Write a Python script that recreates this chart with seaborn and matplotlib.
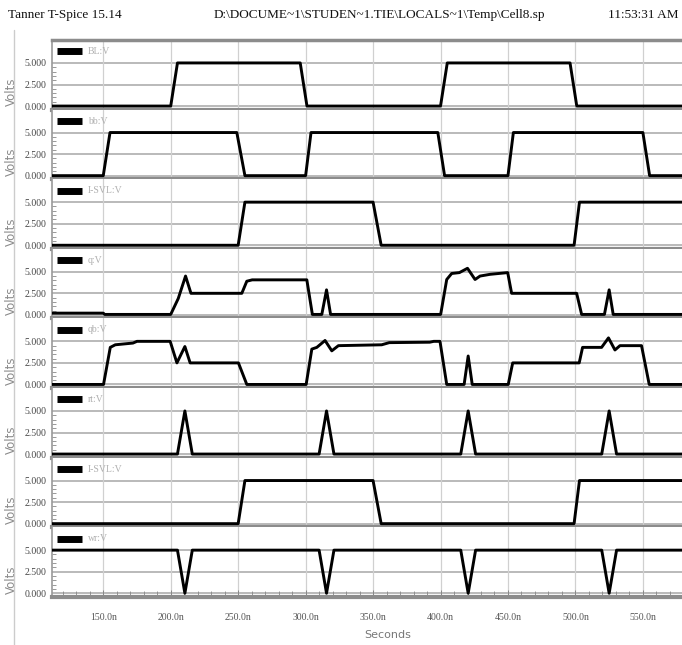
import matplotlib
matplotlib.use("Agg")
import matplotlib.pyplot as plt
import seaborn as sns
import pandas as pd
from matplotlib import font_manager
from matplotlib.lines import Line2D

# ---------------- data (ns, V) ----------------
signal_names = ["BL:V", "bb:V", "I-SVL:V", "q:V", "qb:V", "rt:V", "I-SVL:V", "wr:V"]

t_BL = [112, 200, 205, 296, 301, 400, 405, 496, 501, 579]
v_BL = [0, 0, 5, 5, 0, 0, 5, 5, 0, 0]

t_bb = [112, 150, 155, 249, 255, 300, 304, 398, 403, 450, 454, 550, 555, 579]
v_bb = [0, 0, 5, 5, 0, 0, 5, 5, 0, 0, 5, 5, 0, 0]

t_isvl = [112, 250, 255, 350, 356, 499, 503, 579]
v_isvl = [0, 0, 5, 5, 0, 0, 5, 5]

t_q = [112, 150, 151, 200, 205.6, 211.0, 215, 252.7, 256.4, 260.4, 300.9, 305, 312,
       315.5, 318.5, 400.1, 404.6, 408.3, 414, 420.0, 425.6, 429.3, 436.7, 449.8,
       452.7, 500.9, 504.6, 521.5, 525.0, 528, 579]
v_q = [0.2, 0.2, 0.05, 0.05, 1.9, 4.5, 2.5, 2.5, 3.9, 4.06, 4.06, 0.05, 0.05,
       2.9, 0.05, 0.05, 4.1, 4.8, 4.9, 5.4, 4.1, 4.5, 4.7, 4.9,
       2.5, 2.5, 0.05, 0.05, 2.9, 0.05, 0.05]

t_qb = [112, 150.2, 155.2, 158.9, 172, 175, 199.6, 204.6, 210.5, 214.4, 250.2, 256.4,
        300.4, 304.6, 308.3, 314.4, 319.4, 324.3, 356.4, 362, 392, 395, 399.6, 404.6,
        417.5, 420.5, 423.5, 450.2, 453.5, 502.8, 505.3, 519.4, 524.5, 529.3, 533,
        549, 554.7, 579]
v_qb = [0, 0, 4.3, 4.6, 4.8, 5.0, 5.0, 2.5, 4.4, 2.5, 2.5, 0,
        0, 4.1, 4.3, 5.1, 3.9, 4.5, 4.6, 4.85, 4.9, 5.0, 5.0, 0,
        0, 3.3, 0, 0, 2.5, 2.5, 4.3, 4.3, 5.4, 4.0, 4.5,
        4.5, 0, 0]

t_rt = [112, 205, 210.5, 216, 310, 315.5, 321, 415, 420.5, 426, 519.5, 525, 530.5, 579]
v_rt = [0, 0, 5, 0, 0, 5, 0, 0, 5, 0, 0, 5, 0, 0]

t_wr = [112, 205, 210.5, 216, 310, 315.5, 321, 415, 420.5, 426, 519.5, 525, 530.5, 579]
v_wr = [5, 5, 0, 5, 5, 0, 5, 5, 0, 5, 5, 0, 5, 5]

x_ticks = [150, 200, 250, 300, 350, 400, 450, 500, 550]
x_tick_labels = ["150.0n", "200.0n", "250.0n", "300.0n", "350.0n",
                 "400.0n", "450.0n", "500.0n", "550.0n"]
y_ticks = [0, 2.5, 5]
y_tick_labels = ["0.000", "2.500", "5.000"]

header_left = "Tanner T-Spice 15.14"
header_mid = "D:\\DOCUME~1\\STUDEN~1.TIE\\LOCALS~1\\Temp\\Cell8.sp"
header_right = "11:53:31 AM"

series = [(t_BL, v_BL), (t_bb, v_bb), (t_isvl, v_isvl), (t_q, v_q),
          (t_qb, v_qb), (t_rt, v_rt), (t_isvl, v_isvl), (t_wr, v_wr)]

# ---------------- style ----------------
sns.set_style("white")
avail = {f.name for f in font_manager.fontManager.ttflist}
def pick(*names):
    for n in names:
        if n in avail:
            return n
    return "DejaVu Sans"
serif = pick("Liberation Serif", "DejaVu Serif")
narrow = pick("Liberation Sans Narrow", "Liberation Serif", "DejaVu Sans")
plt.rcParams["font.family"] = [serif, "DejaVu Sans"]

W, H = 682, 645
fig = plt.figure(figsize=(W / 100, H / 100), dpi=100)

left_px, right_px = 52, 682
top0 = 40.0
ph = 69.6
ymin, ymax = -0.41, 7.66
xmin, xmax = 112, 579

for i, (name, (tt, vv)) in enumerate(zip(signal_names, series)):
    top = top0 + i * ph
    ax = fig.add_axes([left_px / W, 1 - (top + ph) / H, (right_px - left_px) / W, ph / H])
    df = pd.DataFrame({"t": tt, "v": vv})
    for yv in y_ticks:
        ax.axhline(yv, color="#b4b4b4", lw=1.3, zorder=0)
    for xv in x_ticks:
        ax.axvline(xv, color="#d0d0d0", lw=0.9, zorder=0)
    sns.lineplot(data=df, x="t", y="v", ax=ax, color="black", lw=2.1,
                 sort=False, estimator=None, zorder=3)
    ax.set_xlim(xmin, xmax)
    ax.set_ylim(ymin, ymax)
    ax.set_yticks(y_ticks)
    ax.set_yticklabels(y_tick_labels, fontsize=7, color="#444444", family=narrow)
    ax.set_yticks([0.5 * k for k in range(11) if k % 5 != 0], minor=True)
    ax.tick_params(axis="y", which="major", direction="out", length=3, width=0.8,
                   color="#888888", pad=1)
    ax.tick_params(axis="y", which="minor", direction="in", length=3, width=0.6,
                   color="#888888", left=True)
    ax.set_ylabel("Volts", fontsize=8.5, color="#8a8a8a", family="DejaVu Sans")
    ax.yaxis.set_label_coords(-0.054, 0.25)
    for s in ["top", "right"]:
        ax.spines[s].set_visible(False)
    ax.spines["left"].set_color("#999999")
    ax.spines["left"].set_linewidth(1.2)
    ax.spines["bottom"].set_color("#8c8c8c")
    ax.spines["bottom"].set_linewidth(3.0)
    if i == 0:
        ax.spines["top"].set_visible(True)
        ax.spines["top"].set_color("#8c8c8c")
        ax.spines["top"].set_linewidth(2.5)
    # legend marker + label
    ax.add_line(Line2D([5 / 630, 30 / 630], [0.835, 0.835], transform=ax.transAxes,
                       color="black", lw=5, solid_capstyle="butt"))
    ax.text(36 / 630, 0.835, name, transform=ax.transAxes, fontsize=7,
            color="#b0b0b0", va="center", ha="left", family=narrow)
    ax.set_xlabel("")
    if i == len(signal_names) - 1:
        ax.set_xticks(x_ticks)
        ax.set_xticklabels(x_tick_labels, fontsize=7, color="#555555", family=narrow)
        ax.set_xticks([v for v in range(120, 580, 10) if v % 50 != 0], minor=True)
        ax.tick_params(axis="x", which="major", direction="in", length=5, width=0.7,
                       color="#888888", pad=12, bottom=True)
        ax.tick_params(axis="x", which="minor", direction="in", length=4, width=0.6,
                       color="#888888", bottom=True)
    else:
        ax.set_xticks([])

fig.text(388 / W, 1 - 635 / H, "Seconds", fontsize=8, color="#777777",
         ha="center", va="center", family="DejaVu Sans")

fig.text(8 / W, 1 - 15 / H, header_left, fontsize=9.5, ha="left", va="center", color="#111111")
fig.text(379 / W, 1 - 15 / H, header_mid, fontsize=9.5, ha="center", va="center", color="#111111")
fig.text(679 / W, 1 - 15 / H, header_right, fontsize=9.5, ha="right", va="center", color="#111111")

fig.add_artist(Line2D([14 / W, 14 / W], [0, 1 - 30 / H], transform=fig.transFigure,
                      color="#cccccc", lw=1))

fig.savefig("out.png", dpi=100, facecolor="white")
